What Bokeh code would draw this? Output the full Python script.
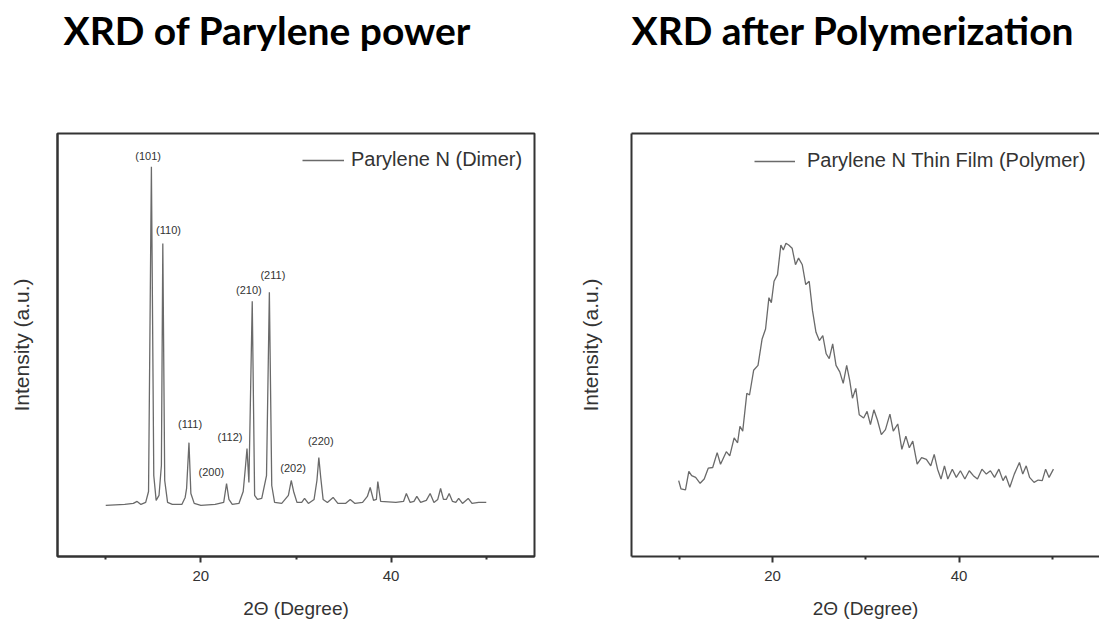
from bokeh.plotting import figure
from bokeh.models import Range1d, FixedTicker, LinearAxis, Legend, LegendItem, Title, ColumnDataSource
from bokeh.layouts import row
from bokeh.core.properties import value
from bokeh.embed import file_html
from bokeh.resources import INLINE

# ---------------- data ----------------
title_dimer = "XRD of Parylene power"
title_polymer = "XRD after Polymerization"
x_label = "2\u0398 (Degree)"
y_label = "Intensity (a.u.)"
tick_labels = [20, 40]
minor_ticks = [10, 30, 50]

dimer_two_theta = [
    10.0, 12.0, 12.9, 13.3, 13.7, 14.2, 14.5, 14.8, 15.05, 15.3,
    15.6, 15.85, 16.0, 16.2, 16.5, 17.0, 18.0, 18.35, 18.5, 18.75,
    18.95, 19.3, 20.0, 21.5, 22.4, 22.7, 22.95, 23.3, 24.0, 24.45,
    24.7, 24.85, 25.05, 25.4, 25.65, 25.95, 26.4, 26.9, 27.2, 27.45,
    27.75, 28.5, 29.2, 29.5, 29.75, 30.1, 30.6, 30.9, 31.3, 31.9,
    32.2, 32.4, 32.6, 32.85, 33.3, 33.9, 34.4, 35.2, 35.7, 36.2,
    37.0, 37.5, 37.8, 38.15, 38.45, 38.6, 38.9, 40.5, 41.3, 41.6,
    42.0, 42.4, 42.7, 43.1, 43.7, 44.1, 44.5, 44.9, 45.2, 45.5,
    45.8, 46.1, 46.45, 46.8, 47.1, 47.5, 48.1, 48.5, 49.2, 50.0,
]
dimer_intensity = [
    0, 1, 2, 4, 1, 3, 14, 340, 30, 5,
    10, 40, 263, 25, 3, 1, 1, 8, 17, 63,
    12, 2, 0, 1, 3, 22, 6, 1, 2, 14,
    40, 57, 23, 205, 10, 6, 7, 30, 214, 20,
    3, 2, 10, 25, 14, 3, 3, 7, 2, 6,
    25, 48, 28, 6, 3, 8, 2, 2, 6, 2,
    3, 9, 18, 5, 6, 24, 4, 3, 4, 12,
    3, 4, 9, 3, 5, 12, 3, 6, 17, 6,
    6, 12, 4, 3, 7, 2, 7, 2, 3, 3,
]

peak_hkl = ["(101)", "(110)", "(111)", "(200)", "(112)", "(210)", "(211)", "(202)", "(220)"]
peak_label_x = [14.45, 16.6, 18.86, 21.1, 23.06, 25.05, 27.57, 29.7, 32.6]
peak_label_y = [351, 277, 82, 34, 69, 216, 231, 38, 65]

polymer_two_theta = [
    9.93, 10.18, 10.66, 11.02, 11.32, 11.75, 12.23, 12.67, 13.1, 13.58,
    14.06, 14.42, 15.04, 15.41, 15.88, 16.25, 16.5, 16.8, 17.24, 17.53,
    17.97, 18.44, 18.88, 19.25, 19.61, 19.87, 20.16, 20.53, 20.89, 21.15,
    21.44, 21.73, 22.1, 22.46, 22.79, 23.19, 23.56, 23.93, 24.29, 24.66,
    25.02, 25.39, 25.75, 26.08, 26.45, 26.81, 27.21, 27.58, 27.95, 28.27,
    28.57, 28.93, 29.3, 29.77, 30.14, 30.5, 30.87, 31.24, 31.67, 32.11,
    32.59, 32.95, 33.43, 33.87, 34.3, 34.67, 35.04, 35.51, 35.99, 36.5,
    36.97, 37.34, 37.7, 38.07, 38.44, 38.8, 39.28, 39.71, 40.15, 40.63,
    41.1, 41.54, 41.98, 42.46, 42.93, 43.37, 43.81, 44.28, 44.72, 45.01,
    45.45, 45.93, 46.48, 46.84, 47.21, 47.57, 48.05, 48.49, 48.93, 49.29,
    49.66, 50.13,
]
polymer_intensity = [
    76.7, 68.3, 67.3, 86, 81.7, 80, 74, 78.3, 89.3, 90,
    105, 93.3, 106, 101.7, 120, 115, 131.7, 126.7, 165, 163.3,
    188.3, 193.3, 220, 230, 261.7, 256.7, 278.3, 285, 315, 310,
    316.7, 315, 311.7, 295, 301.7, 295, 275, 278.3, 248.3, 226.7,
    218.3, 223.3, 205, 200, 215, 193.3, 186.7, 175, 193.3, 178.3,
    160, 170, 143.3, 140, 146.7, 133.3, 148.3, 138.3, 123.3, 128.3,
    144, 126.7, 134, 108.3, 121.7, 110, 116.7, 93.3, 100, 98.3,
    91.7, 103.3, 88.3, 78.3, 91.7, 78.3, 88.3, 80, 86.7, 78.3,
    86.7, 81.7, 78.3, 88.3, 83.3, 86.7, 80, 88.3, 76.7, 81.7,
    70, 83.3, 95, 83.3, 91.7, 80, 75, 77.3, 76.7, 88.3,
    80, 88.3,
]

# ---------------- style ----------------
SANS = "Liberation Sans"
DARK = "#333333"
LINE = "#6a6a6a"


def style_axes(p, ylabel_standoff):
    p.xgrid.visible = False
    p.ygrid.visible = False
    p.background_fill_color = "white"
    p.border_fill_color = "white"
    xa = p.xaxis[0]
    xa.ticker = FixedTicker(ticks=tick_labels, minor_ticks=minor_ticks)
    xa.major_tick_in = 0
    xa.major_tick_out = 6
    xa.minor_tick_in = 0
    xa.minor_tick_out = 3
    xa.major_tick_line_color = DARK
    xa.major_tick_line_width = 2
    xa.minor_tick_line_color = DARK
    xa.minor_tick_line_width = 2
    xa.axis_line_color = DARK
    xa.axis_line_width = 2
    xa.major_label_text_font = SANS
    xa.major_label_text_font_size = "15px"
    xa.major_label_text_color = DARK
    xa.major_label_standoff = 8
    xa.axis_label = x_label
    xa.axis_label_text_font = SANS
    xa.axis_label_text_font_size = "19px"
    xa.axis_label_text_font_style = "normal"
    xa.axis_label_text_color = DARK
    xa.axis_label_standoff = 14

    ya = p.yaxis[0]
    ya.ticker = FixedTicker(ticks=[])
    ya.major_tick_out = 0
    ya.major_tick_in = 0
    ya.minor_tick_out = 0
    ya.minor_tick_in = 0
    ya.major_label_standoff = 0
    ya.axis_line_color = DARK
    ya.axis_line_width = 2
    ya.axis_label = y_label
    ya.axis_label_text_font = SANS
    ya.axis_label_text_font_size = "21px"
    ya.axis_label_text_font_style = "normal"
    ya.axis_label_text_color = DARK
    ya.axis_label_standoff = ylabel_standoff


def add_titles(p, text, offset, gap):
    # spacer nearest the frame, then the visible title above it
    p.add_layout(Title(text=" ", text_font_size="1px", standoff=gap), "above")
    p.add_layout(Title(text=text, text_font="Lato", text_font_style="bold",
                       text_font_size="39px", text_color="black", align="left",
                       offset=offset, standoff=0), "above")


def make_legend(p, renderer, label, loc, standoff, glyph_w):
    leg = Legend(
        items=[LegendItem(label=label, renderers=[renderer])],
        location=loc,
        border_line_color=None,
        background_fill_alpha=0,
        padding=0,
        margin=0,
        spacing=0,
        glyph_width=glyph_w,
        glyph_height=20,
        label_standoff=standoff,
        label_height=20,
        label_text_font=SANS,
        label_text_font_size="20px",
        label_text_color=DARK,
    )
    p.add_layout(leg, "center")


# ---------------- left panel ----------------
p1 = figure(
    width=560, height=621,
    x_range=Range1d(4.93, 55.07), y_range=Range1d(-51.3, 373.4),
    output_backend="svg", toolbar_location=None,
    min_border_left=57, min_border_right=26, min_border_top=133, min_border_bottom=63,
)
p1.outline_line_color = DARK
p1.outline_line_width = 2
style_axes(p1, 25)
add_titles(p1, title_dimer, 6, 78)

src1 = ColumnDataSource(dict(x=dimer_two_theta, y=dimer_intensity))
r1 = p1.line("x", "y", source=src1, line_color=LINE, line_width=1.3)
lab_src = ColumnDataSource(dict(x=peak_label_x, y=peak_label_y, t=peak_hkl))
p1.text("x", "y", text="t", source=lab_src, text_font=value(SANS),
        text_font_size="11px", text_color="#333333",
        text_align="center", text_baseline="middle")
make_legend(p1, r1, "Parylene N (Dimer)", (245, 385), 7, 42)

# ---------------- right panel ----------------
p2 = figure(
    width=539, height=621,
    x_range=Range1d(4.87, 55.07), y_range=Range1d(0, 427.7),
    output_backend="svg", toolbar_location=None,
    min_border_left=71, min_border_right=0, min_border_top=130, min_border_bottom=63,
)
p2.outline_line_color = None
style_axes(p2, 30)
top_axis = LinearAxis(ticker=FixedTicker(ticks=[]), major_tick_out=0, major_tick_in=0,
                      minor_tick_out=0, minor_tick_in=0, major_label_standoff=0,
                      axis_line_color=DARK, axis_line_width=2)
p2.add_layout(top_axis, "above")
add_titles(p2, title_polymer, 0, 78)

src2 = ColumnDataSource(dict(x=polymer_two_theta, y=polymer_intensity))
r2 = p2.line("x", "y", source=src2, line_color=LINE, line_width=1.3)
make_legend(p2, r2, "Parylene N Thin Film (Polymer)", (123, 384), 12, 41)

layout = row(p1, p2)
open("out.html", "w").write(file_html(layout, INLINE))
